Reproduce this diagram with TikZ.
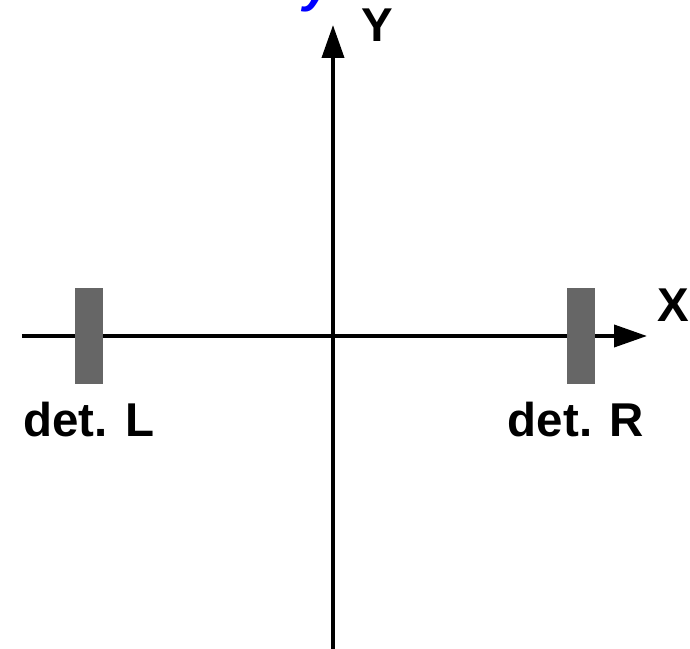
\documentclass[tikz,border=0pt]{standalone}
\usepackage{fontspec}
\setmainfont{Liberation Sans}
\usepackage{tikz}
\usetikzlibrary{arrows.meta,positioning}
\definecolor{cDet}{HTML}{666666}
\definecolor{cBlue}{HTML}{0000FF}
\tikzset{
  axis/.style ={line width=2.2pt, -{Triangle[length=6.6mm,width=4.4mm]}},
  det/.style  ={draw=none, fill=cDet, minimum width=5.6mm, minimum height=19mm, inner sep=0pt},
  lbl/.style  ={font=\fontsize{27}{30}\selectfont\bfseries, inner sep=0pt},
}
\begin{document}
\begin{tikzpicture}
        \useasboundingbox (-6.66,-6.24) rectangle (7.14,6.72);
        % axes
        \coordinate (xs) at (-6.22,0); \coordinate (xe) at (6.28,0);
        \coordinate (ys) at (0,-6.3);  \coordinate (ye) at (0,6.22);
        \draw[axis] (xs)--(xe);
        \draw[axis] (ys)--(ye);
        \node[lbl] (xl) at (6.8,0.62){X};
        \node[lbl] (yl) at (0.88,6.22){Y};
        \node[lbl, cBlue, font=\fontsize{29}{32}\selectfont\bfseries\itshape, anchor=base] (yb) at (-0.3,6.68){y};
        % detectors
        \node[det] (dL) at (-4.88,0){};
        \node[det] (dR) at (4.96,0){};
        \node[lbl] (tL) at (-4.88,-1.68){det. L};
        \node[lbl] (tR) at (4.86,-1.68){det. R};
      \end{tikzpicture}
\end{document}
